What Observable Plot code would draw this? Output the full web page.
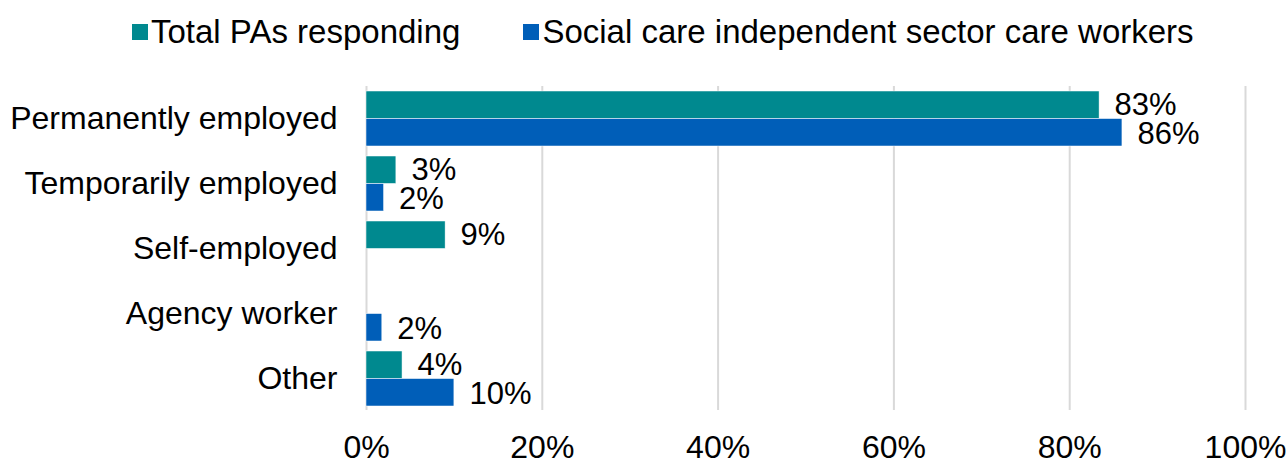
<!DOCTYPE html>
<html>
<head>
<meta charset="utf-8">
<script src="https://cdn.jsdelivr.net/npm/d3@7"></script>
<script src="https://cdn.jsdelivr.net/npm/@observablehq/plot@0.6"></script>
<style>
  html, body { margin: 0; padding: 0; background: #fff; }
  body { width: 1288px; height: 464px; overflow: hidden; font-family: "Liberation Sans", Arial, sans-serif; }
  #legend { height: 62px; display: flex; align-items: center; padding-left: 132px; font-size: 33px; color: #000; box-sizing: border-box; padding-top: 2px; }
  .item { display: flex; align-items: center; margin-right: 63px; }
  .sw { width: 16px; height: 16px; margin-right: 3px; }
</style>
</head>
<body>
<div id="legend"></div>
<div id="chart"></div>
<script>
const categories = ["Permanently employed", "Temporarily employed", "Self-employed", "Agency worker", "Other"];
const seriesNames = ["Total PAs responding", "Social care independent sector care workers"];
const seriesColors = ["#00898F", "#005EB8"];
const totalPAs = [83.4, 3.4, 9.0, null, 4.1];
const socialCare = [86.0, 2.0, null, 1.8, 10.0];
const paLabels = ["83%", "3%", "9%", null, "4%"];
const scLabels = ["86%", "2%", null, "2%", "10%"];
const xTicks = [0, 20, 40, 60, 80, 100];

const width = 1288, height = 402, marginTop = 24, marginBottom = 54;
const padInner = 0.16, padOuter = 0.05;
const step = (height - marginTop - marginBottom) / (categories.length - padInner + 2 * padOuter);
const bw = step * (1 - padInner);

const pa = categories.map((c, i) => ({category: c, value: totalPAs[i], label: paLabels[i]})).filter(d => d.value != null);
const sc = categories.map((c, i) => ({category: c, value: socialCare[i], label: scLabels[i]})).filter(d => d.value != null);

const legend = document.getElementById("legend");
seriesNames.forEach((n, i) => {
  const it = document.createElement("div");
  it.className = "item";
  it.innerHTML = `<span class="sw" style="background:${seriesColors[i]}"></span><span>${n}</span>`;
  legend.appendChild(it);
});

const chart = Plot.plot({
  width, height,
  marginLeft: 366, marginRight: 43, marginTop, marginBottom,
  style: {fontFamily: "'Liberation Sans', Arial, sans-serif", fontSize: "32px", color: "#000", background: "#fff", overflow: "visible"},
  x: {domain: [0, 100], ticks: xTicks, tickFormat: d => d + "%", tickSize: 0, tickPadding: 25, label: null},
  y: {domain: categories, paddingInner: padInner, paddingOuter: padOuter, tickSize: 0, tickPadding: 29, label: null},
  marks: [
    Plot.ruleX(xTicks, {stroke: "#d9d9d9", strokeWidth: 2}),
    Plot.barX(pa, {x: "value", y: "category", fill: seriesColors[0], insetBottom: bw / 2, stroke: "#fff", strokeWidth: 0.5}),
    Plot.barX(sc, {x: "value", y: "category", fill: seriesColors[1], insetTop: bw / 2, stroke: "#fff", strokeWidth: 0.5}),
    Plot.text(pa, {x: "value", y: "category", text: "label", dy: -bw / 4, dx: 15, textAnchor: "start", fill: "#000", fontSize: 31}),
    Plot.text(sc, {x: "value", y: "category", text: "label", dy: bw / 4 + 1, dx: 15, textAnchor: "start", fill: "#000", fontSize: 31})
  ]
});
document.getElementById("chart").appendChild(chart);
</script>
</body>
</html>
